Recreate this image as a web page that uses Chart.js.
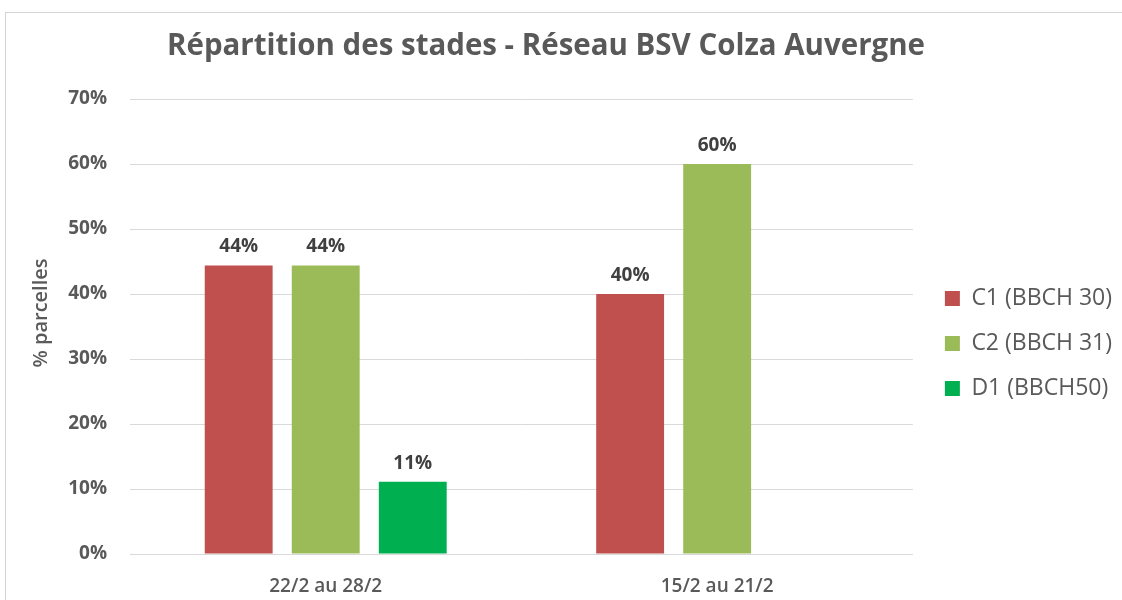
<!DOCTYPE html>
<html>
<head>
<meta charset="utf-8">
<script src="https://cdn.jsdelivr.net/npm/chart.js@4/dist/chart.umd.min.js"></script>
<style>
  html, body { margin: 0; padding: 0; background: #ffffff; overflow: hidden; }
  #wrap { position: relative; width: 1122px; height: 600px; }
  #frame { position: absolute; left: 5px; top: 12px; width: 2000px; height: 1000px;
           border-left: 1px solid #d4d4d4; border-top: 1px solid #d4d4d4; }
  canvas { position: absolute; left: 0; top: 0; }
</style>
</head>
<body>
<div id="wrap">
  <div id="frame"></div>
  <canvas id="c" width="1122" height="600"></canvas>
</div>
<script>
const chartTitle = 'Répartition des stades - Réseau BSV Colza Auvergne';
const yAxisTitle = '% parcelles';
const categories = ['22/2 au 28/2', '15/2 au 21/2'];
const seriesNames = ['C1 (BBCH 30)', 'C2 (BBCH 31)', 'D1 (BBCH50)'];
const c1Values = [44.4, 40];
const c2Values = [44.4, 60];
const d1Values = [11.1, null];
const yTicks = [0, 10, 20, 30, 40, 50, 60, 70];
const seriesColors = ['#C0504D', '#9BBB59', '#00B050'];

const textGray = '#595959';
const baseFont = '"Open Sans", "DejaVu Sans", sans-serif';

const titlePlugin = {
  id: 'customTitle',
  afterDraw(chart) {
    const ctx = chart.ctx;
    ctx.save();
    ctx.font = 'bold 31px ' + baseFont;
    ctx.fillStyle = textGray;
    ctx.textAlign = 'center';
    ctx.textBaseline = 'middle';
    ctx.fillText(chartTitle, 546, 46, 758);
    // y axis title
    ctx.font = '600 20px ' + baseFont;
    ctx.translate(41, 313);
    ctx.rotate(-Math.PI / 2);
    ctx.fillText(yAxisTitle, 0, 0);
    ctx.restore();
  }
};

const legendShift = {
  id: 'legendShift',
  afterLayout(chart) {
    const lg = chart.legend;
    if (!lg) return;
    lg.left += 10; lg.right += 10;
    lg.top -= 6; lg.bottom -= 6;
  }
};

const valueLabels = {
  id: 'valueLabels',
  afterDatasetsDraw(chart) {
    const ctx = chart.ctx;
    ctx.save();
    ctx.font = 'bold 19px ' + baseFont;
    ctx.fillStyle = '#404040';
    ctx.textAlign = 'center';
    ctx.textBaseline = 'bottom';
    chart.data.datasets.forEach((ds, i) => {
      const meta = chart.getDatasetMeta(i);
      meta.data.forEach((bar, j) => {
        const v = ds.data[j];
        if (v === null || v === undefined) return;
        ctx.fillText(Math.round(v) + '%', bar.x, bar.y - 9);
      });
    });
    ctx.restore();
  }
};

new Chart(document.getElementById('c'), {
  type: 'bar',
  data: {
    labels: categories,
    datasets: [
      { label: seriesNames[0], data: c1Values, backgroundColor: seriesColors[0] },
      { label: seriesNames[1], data: c2Values, backgroundColor: seriesColors[1] },
      { label: seriesNames[2], data: d1Values, backgroundColor: seriesColors[2] }
    ]
  },
  options: {
    responsive: false,
    animation: false,
    devicePixelRatio: 1,
    categoryPercentage: 0.667,
    barPercentage: 0.78,
    layout: { padding: { top: 99, left: 10, right: 10, bottom: 0 } },
    plugins: {
      title: { display: false },
      tooltip: { enabled: false },
      legend: {
        position: 'right',
        labels: {
          boxWidth: 15,
          boxHeight: 15,
          padding: 22,
          color: textGray,
          font: { family: baseFont, size: 23, lineHeight: 1 }
        }
      }
    },
    scales: {
      x: {
        grid: { display: false },
        border: { display: false },
        ticks: { color: textGray, padding: 13, font: { family: baseFont, size: 19, weight: '600' } },
        afterFit(scale) { scale.height = 46; }
      },
      y: {
        min: 0,
        max: 70,
        afterBuildTicks(scale) { scale.ticks = yTicks.map(v => ({ value: v })); },
        grid: { color: '#d9d9d9', lineWidth: 1, drawTicks: false },
        border: { display: false },
        ticks: {
          color: textGray,
          padding: 23,
          font: { family: baseFont, size: 19, weight: 'bold' },
          callback: v => v + '%'
        },
        title: { display: false },
        afterFit(scale) { scale.width = 120; }
      }
    }
  },
  plugins: [titlePlugin, legendShift, valueLabels]
});
</script>
</body>
</html>
